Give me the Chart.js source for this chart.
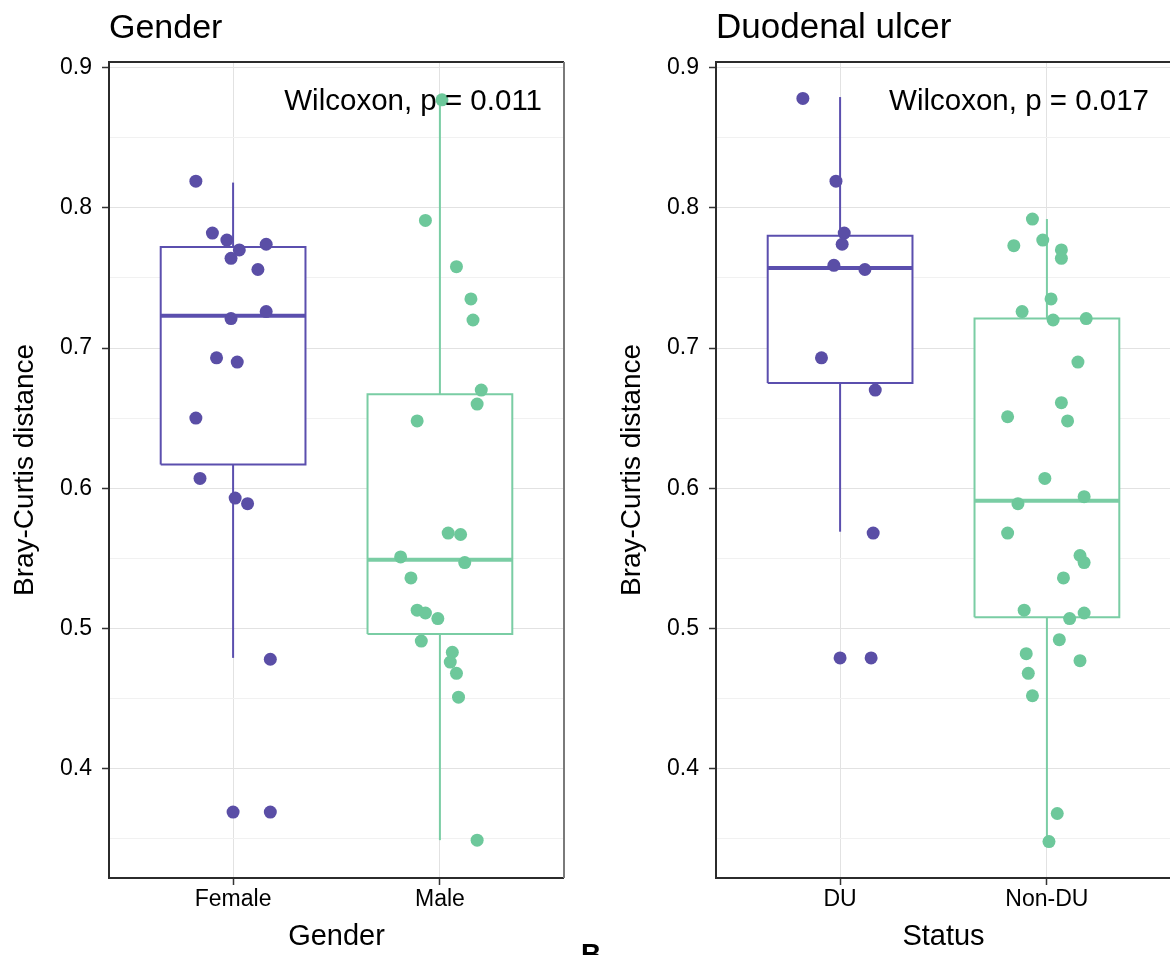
<!DOCTYPE html>
<html>
<head>
<meta charset="utf-8">
<script src="https://cdn.jsdelivr.net/npm/chart.js@4.4.1/dist/chart.umd.min.js"></script>
<style>
  html, body { margin: 0; padding: 0; background: #ffffff; overflow: hidden; width: 1170px; height: 955px; }
  #wrap { position: relative; width: 1170px; height: 955px; }
  canvas { position: absolute; top: 0; }
  #c1 { left: 0; }
  #c2 { left: 607px; }
  #lbl { position: absolute; left: 581px; top: 940px; font: bold 28px "Liberation Sans", Arial, sans-serif; color: #000; line-height: 28px; }
</style>
</head>
<body>
<div id="wrap">
  <canvas id="c1" width="585" height="955"></canvas>
  <canvas id="c2" width="585" height="955"></canvas>
  <div id="lbl">B</div>
</div>
<script>
// ---------------- DATA ----------------
const genderCategories = ['Female', 'Male'];
const statusCategories = ['DU', 'Non-DU'];

const femaleValues = [0.819, 0.782, 0.777, 0.770, 0.764, 0.774, 0.756, 0.726, 0.721, 0.693, 0.690, 0.650, 0.607, 0.593, 0.589, 0.478, 0.369, 0.369];
const femaleJitter = [-0.18, -0.10, -0.03, 0.03, -0.01, 0.16, 0.12, 0.16, -0.01, -0.08, 0.02, -0.18, -0.16, 0.01, 0.07, 0.18, 0.00, 0.18];

const maleValues = [0.877, 0.791, 0.758, 0.735, 0.720, 0.670, 0.660, 0.648, 0.568, 0.567, 0.551, 0.547, 0.536, 0.513, 0.511, 0.507, 0.491, 0.483, 0.476, 0.468, 0.451, 0.349];
const maleJitter = [0.01, -0.07, 0.08, 0.15, 0.16, 0.20, 0.18, -0.11, 0.04, 0.10, -0.19, 0.12, -0.14, -0.11, -0.07, -0.01, -0.09, 0.06, 0.05, 0.08, 0.09, 0.18];

const duValues = [0.878, 0.819, 0.782, 0.774, 0.759, 0.756, 0.693, 0.670, 0.568, 0.479, 0.479];
const duJitter = [-0.18, -0.02, 0.02, 0.01, -0.03, 0.12, -0.09, 0.17, 0.16, 0.00, 0.15];

const nonDuValues = [0.792, 0.777, 0.773, 0.770, 0.764, 0.735, 0.726, 0.721, 0.720, 0.690, 0.661, 0.651, 0.648, 0.607, 0.594, 0.589, 0.568, 0.552, 0.547, 0.536, 0.513, 0.511, 0.507, 0.492, 0.482, 0.477, 0.468, 0.452, 0.368, 0.348];
const nonDuJitter = [-0.07, -0.02, -0.16, 0.07, 0.07, 0.02, -0.12, 0.19, 0.03, 0.15, 0.07, -0.19, 0.10, -0.01, 0.18, -0.14, -0.19, 0.16, 0.18, 0.08, -0.11, 0.18, 0.11, 0.06, -0.10, 0.16, -0.09, -0.07, 0.05, 0.01];

// box statistics per category: [first, second]
const genderQ1 = [0.617, 0.496];
const genderMedian = [0.723, 0.549];
const genderQ3 = [0.772, 0.667];
const genderWhiskerLow = [0.479, 0.349];
const genderWhiskerHigh = [0.818, 0.878];

const statusQ1 = [0.675, 0.508];
const statusMedian = [0.757, 0.591];
const statusQ3 = [0.780, 0.721];
const statusWhiskerLow = [0.569, 0.348];
const statusWhiskerHigh = [0.879, 0.792];

const yMajorTicks = [0.4, 0.5, 0.6, 0.7, 0.8, 0.9];
const yTickLabels = ['0.4', '0.5', '0.6', '0.7', '0.8', '0.9'];
const yMinorTicks = [0.35, 0.45, 0.55, 0.65, 0.75, 0.85];

const genderTitle = 'Gender';
const statusTitle = 'Duodenal ulcer';
const genderTest = 'Wilcoxon, p = 0.011';
const statusTest = 'Wilcoxon, p = 0.017';
const yAxisTitle = 'Bray-Curtis distance';
const genderAxisTitle = 'Gender';
const statusAxisTitle = 'Status';

// ---------------- STYLE ----------------
const FONT = '"Liberation Sans", Arial, Helvetica, sans-serif';
const groupPointColors = ['#5a4ea6', '#6dc89b'];
const groupLineColors = ['#5b4fae', '#7acda4'];
const BOX_HALF = 0.35;

const decorPlugin = {
  id: 'decor',
  afterDraw(chart, args, opts) {
    const { ctx, chartArea: a } = chart;
    ctx.save();
    ctx.lineWidth = 2;
    ctx.strokeStyle = '#2b2b2b';
    ctx.beginPath();
    ctx.moveTo(a.right, a.top); ctx.lineTo(a.left, a.top); ctx.lineTo(a.left, a.bottom); ctx.lineTo(a.right, a.bottom);
    ctx.stroke();
    ctx.strokeStyle = '#7a7a7a';
    ctx.beginPath();
    ctx.moveTo(a.right, a.top); ctx.lineTo(a.right, a.bottom);
    ctx.stroke();
    ctx.fillStyle = '#000';
    ctx.textBaseline = 'alphabetic';
    ctx.textAlign = 'left';
    ctx.font = opts.titleSize + 'px ' + FONT;
    ctx.fillText(opts.title, a.left, 38);
    ctx.textAlign = 'right';
    ctx.font = '29.5px ' + FONT;
    ctx.fillText(opts.test, a.right - 22, 110);
    ctx.restore();
  }
};

function buildDatasets(groupValues, groupJitter, q1, med, q3, wLo, wHi) {
  const ds = [];
  for (let i = 0; i < groupValues.length; i++) {
    const cx = i + 1;
    const col = groupLineColors[i];
    ds.push({
      type: 'scatter',
      data: groupValues[i].map((v, k) => ({ x: cx + groupJitter[i][k], y: v })),
      backgroundColor: groupPointColors[i],
      borderWidth: 0,
      pointRadius: 6.5,
      order: 0
    });
    ds.push({
      type: 'line',
      data: [{ x: cx - BOX_HALF, y: med[i] }, { x: cx + BOX_HALF, y: med[i] }],
      borderColor: col, borderWidth: 4, pointRadius: 0, fill: false, order: 1
    });
    ds.push({
      type: 'line',
      data: [
        { x: cx - BOX_HALF, y: q1[i] }, { x: cx + BOX_HALF, y: q1[i] },
        { x: cx + BOX_HALF, y: q3[i] }, { x: cx - BOX_HALF, y: q3[i] },
        { x: cx - BOX_HALF, y: q1[i] }
      ],
      borderColor: col, borderWidth: 2, pointRadius: 0,
      fill: 'shape', backgroundColor: '#ffffff', order: 2, tension: 0
    });
    ds.push({
      type: 'line',
      data: [{ x: cx, y: wLo[i] }, { x: cx, y: q1[i] }],
      borderColor: col, borderWidth: 2, pointRadius: 0, fill: false, order: 3
    });
    ds.push({
      type: 'line',
      data: [{ x: cx, y: q3[i] }, { x: cx, y: wHi[i] }],
      borderColor: col, borderWidth: 2, pointRadius: 0, fill: false, order: 3
    });
  }
  return ds;
}

function makePanel(id, categories, datasets, title, titleSize, test, xTitle) {
  const allY = yMajorTicks.concat(yMinorTicks).sort((a, b) => a - b);
  const isMajor = (v) => yMajorTicks.some(t => Math.abs(t - v) < 1e-6);
  return new Chart(document.getElementById(id), {
    type: 'scatter',
    data: { datasets },
    plugins: [decorPlugin],
    options: {
      responsive: false,
      animation: false,
      devicePixelRatio: 1,
      layout: { padding: { top: 62, right: 21, bottom: 0, left: 0 } },
      plugins: {
        legend: { display: false },
        tooltip: { enabled: false },
        decor: { title, titleSize, test }
      },
      scales: {
        x: {
          type: 'linear',
          min: 0.4, max: 2.6,
          afterBuildTicks(s) { s.ticks = categories.map((c, i) => ({ value: i + 1 })); },
          afterFit(s) { s.height = 77; },
          ticks: {
            callback: (v) => categories[Math.round(v) - 1] || '',
            color: '#000',
            font: { family: FONT, size: 23 },
            padding: 1,
            maxRotation: 0, autoSkip: false
          },
          grid: { color: '#e2e2e2', lineWidth: 1, tickLength: 7, tickColor: '#333', tickWidth: 1.5 },
          border: { display: false },
          title: {
            display: true, text: xTitle, color: '#000',
            font: { family: FONT, size: 29 },
            padding: { top: 0, bottom: 1 }
          }
        },
        y: {
          type: 'linear',
          min: 0.322, max: 0.904,
          afterBuildTicks(s) { s.ticks = allY.map(v => ({ value: v })); },
          afterFit(s) { s.width = 109; },
          ticks: {
            callback: (v) => {
              const k = yMajorTicks.findIndex(t => Math.abs(t - v) < 1e-6);
              return k >= 0 ? yTickLabels[k] : '';
            },
            color: '#000',
            font: { family: FONT, size: 23 },
            padding: 10,
            autoSkip: false
          },
          grid: {
            color: (c) => isMajor(c.tick.value) ? '#e2e2e2' : '#f1f1f1',
            tickColor: (c) => isMajor(c.tick.value) ? '#333' : 'rgba(0,0,0,0)',
            lineWidth: 1, tickLength: 7, tickWidth: 1.5
          },
          border: { display: false },
          title: {
            display: true, text: yAxisTitle, color: '#000',
            font: { family: FONT, size: 28 },
            padding: { top: 8, bottom: 0 }
          }
        }
      }
    }
  });
}

makePanel('c1', genderCategories,
  buildDatasets([femaleValues, maleValues], [femaleJitter, maleJitter], genderQ1, genderMedian, genderQ3, genderWhiskerLow, genderWhiskerHigh),
  genderTitle, 34, genderTest, genderAxisTitle);

makePanel('c2', statusCategories,
  buildDatasets([duValues, nonDuValues], [duJitter, nonDuJitter], statusQ1, statusMedian, statusQ3, statusWhiskerLow, statusWhiskerHigh),
  statusTitle, 35, statusTest, statusAxisTitle);
</script>
</body>
</html>
